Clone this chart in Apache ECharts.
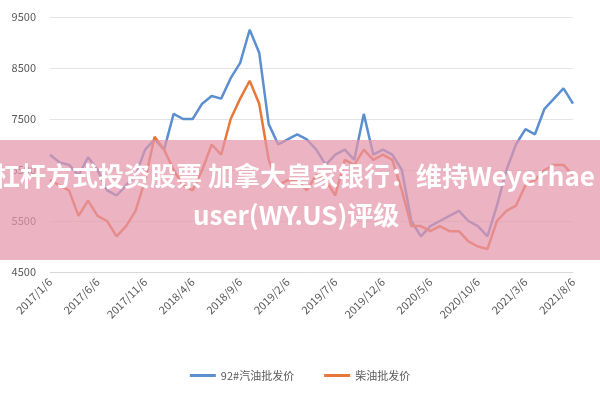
<!DOCTYPE html>
<html>
<head>
<meta charset="utf-8">
<script src="https://cdn.jsdelivr.net/npm/echarts@6/dist/echarts.min.js"></script>
<style>body{margin:0}#main{width:600px;height:400px}</style>
</head>
<body>
<div id="main"></div>
<script>
// 月度日期
var months = [];
for (var y = 2017; y <= 2021; y++) {
	for (var m = 1; m <= 12; m++) {
		if (y === 2021 && m > 8) break;
		months.push(y + '/' + m + '/6');
	}
}
var gasoline92 = [6800, 6650, 6600, 6400, 6750, 6500, 6100, 6000, 6200, 6400, 6900, 7100, 6900, 7600, 7500, 7500, 7800, 7950, 7900, 8300, 8600, 9250, 8800, 7400, 7000, 7100, 7200, 7100, 6900, 6600, 6800, 6900, 6700, 7600, 6800, 6900, 6800, 6500, 5500, 5200, 5400, 5500, 5600, 5700, 5500, 5400, 5200, 5800, 6500, 7000, 7300, 7200, 7700, 7900, 8100, 7800];
var diesel = [6300, 6200, 6100, 5600, 5900, 5600, 5500, 5200, 5400, 5700, 6300, 7150, 6900, 6500, 6200, 6100, 6500, 7000, 6800, 7500, 7900, 8250, 7800, 6700, 6200, 6300, 6300, 6100, 6400, 6300, 6000, 6700, 6600, 6900, 6700, 6800, 6700, 6100, 5400, 5400, 5300, 5400, 5300, 5300, 5100, 5000, 4950, 5500, 5700, 5800, 6200, 6300, 6500, 6600, 6600, 6400];
var yTicks = [4500, 5500, 6500, 7500, 8500, 9500];
var seriesNames = ['92#汽油批发价', '柴油批发价'];

var myChart = echarts.init(document.getElementById('main'));
option = {
	color: ['#5b8fd0', '#e8773a'],
	textStyle: { fontFamily: 'Noto Sans CJK SC' },
	legend: {
		bottom: 14,
		itemWidth: 26,
		itemHeight: 3,
		icon: 'rect',
		itemGap: 30,
		textStyle: { color: '#595959', fontSize: 11 },
		data: seriesNames
	},
	grid: { left: 50, right: 27, top: 17, bottom: 128 },
	xAxis: {
		type: 'category',
		boundaryGap: false,
		data: months,
		axisTick: { show: false },
		axisLine: { lineStyle: { color: '#d9d9d9' } },
		axisLabel: { interval: 4, rotate: 45, color: '#595959', fontSize: 11 }
	},
	yAxis: {
		type: 'value',
		min: yTicks[0],
		max: yTicks[yTicks.length - 1],
		interval: 1000,
		axisLabel: { color: '#595959', fontSize: 11, margin: 14, formatter: function (v) { return String(v); } },
		splitLine: { lineStyle: { color: '#e4e4e4' } }
	},
	graphic: [{
		type: 'rect',
		left: 0, top: 140,
		shape: { width: 600, height: 120 },
		style: { fill: 'rgba(228,150,172,0.72)' },
		z: 100
	}, {
		type: 'text',
		left: -6, top: 163,
		style: { text: '杠杆方式投资股票 加拿大皇家银行：维持Weyerhae', fill: '#fff', font: 'bold 26px "Noto Sans CJK SC"' },
		z: 101
	}, {
		type: 'text',
		left: 193, top: 202,
		style: { text: 'user(WY.US)评级', fill: '#fff', font: 'bold 26px "Noto Sans CJK SC"' },
		z: 101
	}],
	series: [{
		name: seriesNames[0],
		type: 'line',
		data: gasoline92,
		symbol: 'none',
		lineStyle: { width: 2.5 }
	}, {
		name: seriesNames[1],
		type: 'line',
		data: diesel,
		symbol: 'none',
		lineStyle: { width: 2.5 }
	}]
};
myChart.setOption(option);
</script>
</body>
</html>
